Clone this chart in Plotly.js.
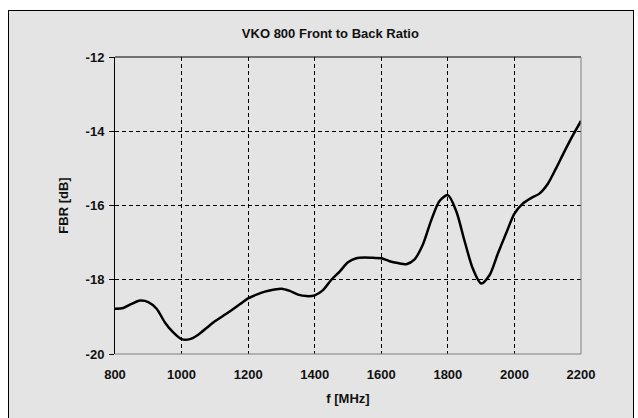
<!DOCTYPE html>
<html>
<head>
<meta charset="utf-8">
<script src="https://cdn.plot.ly/plotly-3.0.1.min.js"></script>
<style>
  html, body { margin: 0; padding: 0; background: #ffffff; width: 638px; height: 418px; overflow: hidden; }
  #frame { position: absolute; left: 8px; top: 10px; width: 624px; height: 420px; border: 1px solid #000; background: #e4e4e4; }
  #chart { width: 624px; height: 420px; }
</style>
</head>
<body>
<div id="frame"><div id="chart"></div></div>
<script>
const freqMHz = [800, 825, 850, 875, 900, 925, 950, 975, 1000, 1025, 1050, 1075, 1100, 1125, 1150, 1175,
  1200, 1225, 1250, 1275, 1300, 1325, 1350, 1375, 1400, 1425, 1450, 1475, 1500, 1525, 1550, 1575,
  1600, 1625, 1650, 1675, 1700, 1725, 1750, 1775, 1800, 1825, 1850, 1875, 1900, 1925, 1950, 1975,
  2000, 2025, 2050, 2075, 2100, 2125, 2150, 2175, 2200];
const fbrDb = [-18.78, -18.76, -18.65, -18.56, -18.60, -18.78, -19.15, -19.42, -19.60, -19.60, -19.48, -19.30, -19.12, -18.97, -18.82, -18.66,
  -18.50, -18.40, -18.32, -18.27, -18.24, -18.30, -18.40, -18.44, -18.42, -18.28, -18.00, -17.78, -17.53, -17.42, -17.40, -17.41,
  -17.42, -17.50, -17.55, -17.58, -17.45, -17.05, -16.40, -15.88, -15.72, -16.15, -16.95, -17.70, -18.10, -17.88, -17.30, -16.75,
  -16.22, -15.95, -15.80, -15.68, -15.42, -15.00, -14.55, -14.12, -13.72];
const xTicks = [800, 1000, 1200, 1400, 1600, 1800, 2000, 2200];
const yTicks = [-20, -18, -16, -14, -12];
const chartTitle = "VKO 800 Front to Back Ratio";
const xTitle = "f [MHz]";
const yTitle = "FBR [dB]";

const font = {family: "Liberation Sans, Arial, sans-serif", size: 13, color: "#111"};

Plotly.newPlot("chart", [{
  x: freqMHz, y: fbrDb, type: "scatter", mode: "lines",
  line: {color: "#000", width: 2.5, shape: "spline", smoothing: 0.8}
}], {
  width: 624, height: 420,
  margin: {l: 106, r: 52, t: 46, b: 77},
  paper_bgcolor: "#e4e4e4", plot_bgcolor: "#e4e4e4",
  showlegend: false,
  font: font,
  title: {text: "<b>" + chartTitle + "</b>", x: 0.515, xanchor: "center", y: 0.947, yanchor: "middle", font: {family: font.family, size: 13, color: "#111"}},
  xaxis: {
    range: [800, 2200], tickvals: xTicks, ticktext: xTicks.map(v => "<b>" + v + "</b>"),
    ticks: "", showgrid: true, gridcolor: "#000", gridwidth: 1, griddash: "4px,3px",
    zeroline: false, showline: false, ticklabelstandoff: 11,
    tickfont: {family: font.family, size: 13, color: "#111"},
    title: {text: "<b>" + xTitle + "</b>", standoff: 12, font: {family: font.family, size: 13, color: "#111"}}
  },
  yaxis: {
    range: [-20, -12], tickvals: yTicks, ticktext: yTicks.map(v => "<b>" + v + "</b>"),
    ticks: "outside", ticklen: 5, tickcolor: "#000", showgrid: true, gridcolor: "#000", gridwidth: 1, griddash: "4px,3px",
    zeroline: false, showline: true, linecolor: "#000", linewidth: 1, ticklabelstandoff: 2,
    tickfont: {family: font.family, size: 13, color: "#111"},
    title: {text: "<b>" + yTitle + "</b>", standoff: 14, font: {family: font.family, size: 13, color: "#111"}}
  },
  shapes: [
    {type: "line", xref: "paper", yref: "paper", x0: 0, x1: 1, y0: 1, y1: 1, line: {color: "#000", width: 1}},
    {type: "line", xref: "paper", yref: "paper", x0: 1, x1: 1, y0: 0, y1: 1, line: {color: "#808080", width: 1}},
    {type: "line", xref: "paper", yref: "paper", x0: 0, x1: 1, y0: 0, y1: 0, line: {color: "#808080", width: 1}}
  ]
}, {displayModeBar: false, staticPlot: true});
</script>
</body>
</html>
